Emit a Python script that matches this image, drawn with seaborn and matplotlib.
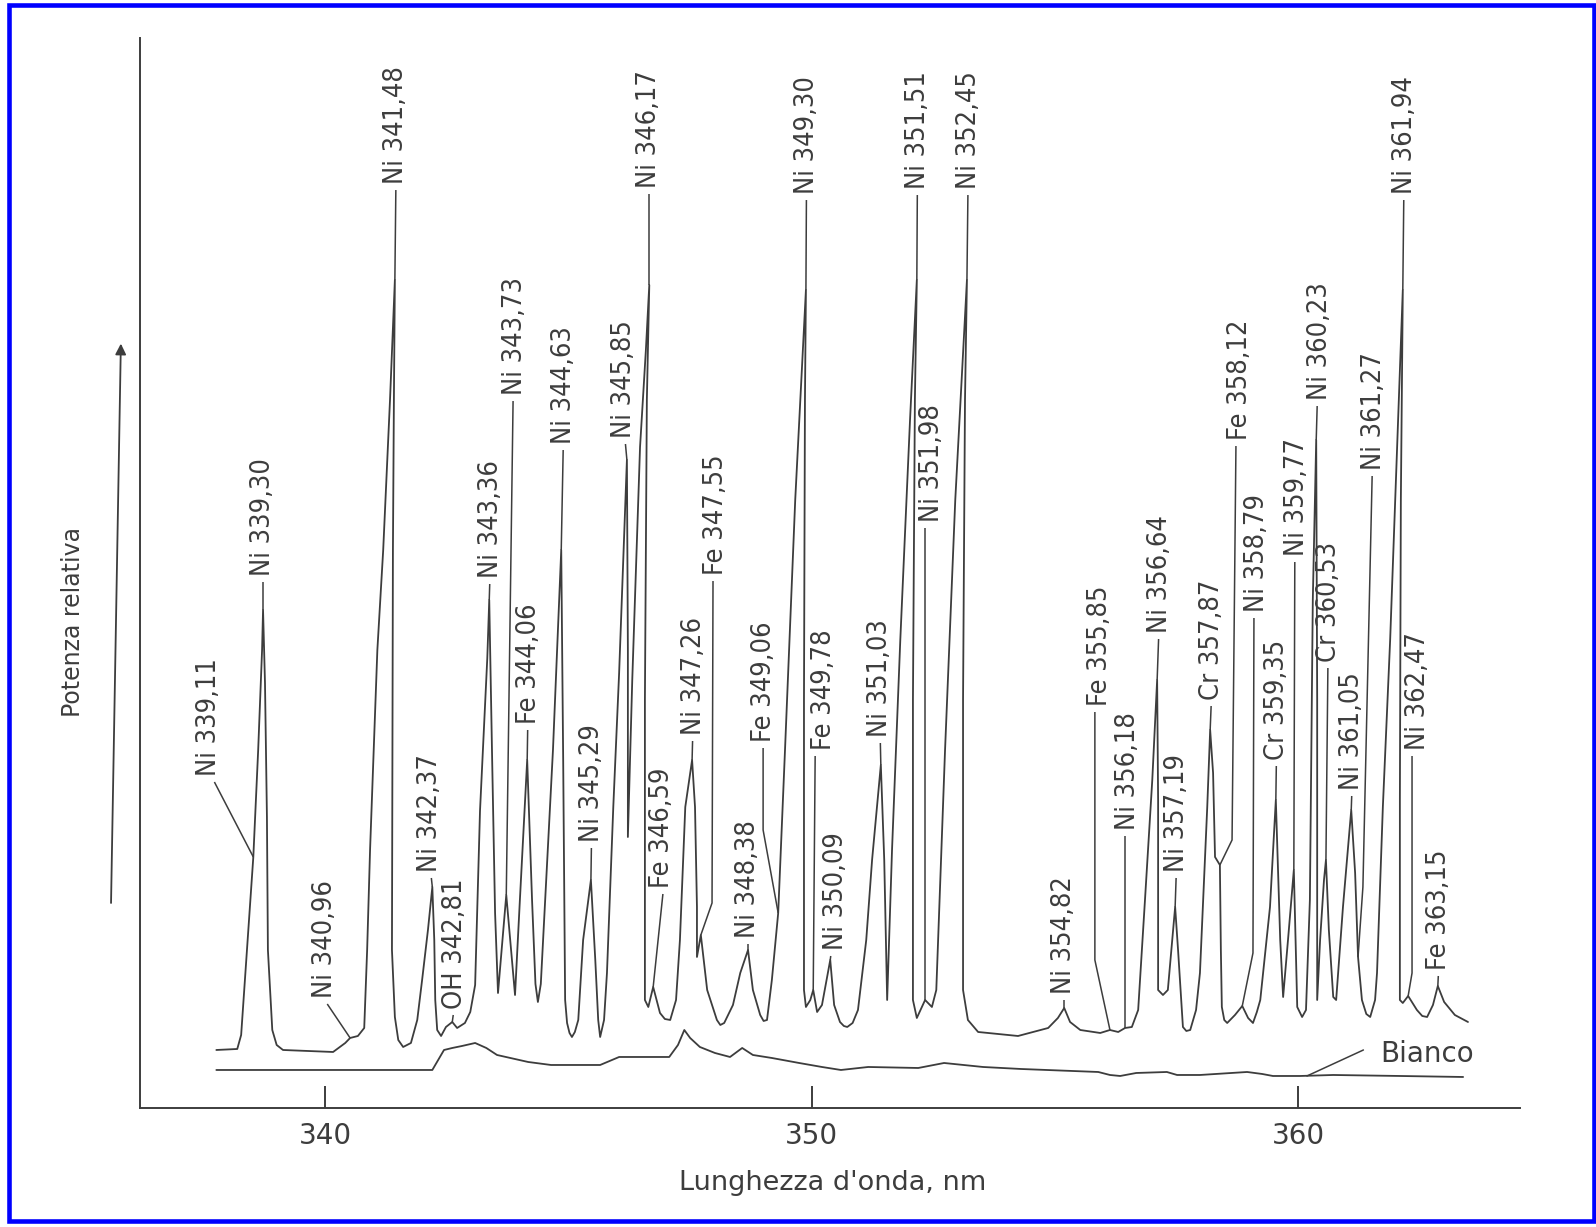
import numpy as np
import pandas as pd
import matplotlib
matplotlib.use("Agg")
import matplotlib.pyplot as plt
import seaborn as sns
from matplotlib import font_manager as fm
from matplotlib.patches import Rectangle

# ---------------- data ----------------
# sample trace (wavelength in nm, relative power in arbitrary units)
sample_nm = [
    337.76, 338.19, 338.27, 338.39, 338.52, 338.62, 338.70, 338.72, 338.76, 338.80,
    338.82, 338.91, 339.00, 339.13, 340.16, 340.41, 340.51, 340.67, 340.80, 340.86,
    340.92, 341.07, 341.19, 341.33, 341.43, 341.41, 341.39, 341.37, 341.43, 341.50,
    341.60, 341.76, 341.89, 341.99, 342.11, 342.20, 342.24, 342.26, 342.30, 342.38,
    342.48, 342.61, 342.71, 342.87, 342.98, 343.08, 343.18, 343.33, 343.37, 343.43,
    343.49, 343.55, 343.72, 343.90, 344.00, 344.15, 344.25, 344.32, 344.37, 344.43,
    344.52, 344.68, 344.85, 344.89, 344.93, 344.97, 345.02, 345.07, 345.13, 345.20,
    345.30, 345.46, 345.55, 345.61, 345.65, 345.73, 345.79, 345.92, 346.04, 346.20,
    346.22, 346.22, 346.31, 346.47, 346.59, 346.66, 346.61, 346.57, 346.57, 346.64,
    346.74, 346.88, 346.98, 347.09, 347.21, 347.29, 347.40, 347.54, 347.60, 347.64,
    347.64, 347.72, 347.85, 348.05, 348.12, 348.20, 348.38, 348.53, 348.69, 348.79,
    348.94, 349.01, 349.08, 349.18, 349.31, 349.45, 349.66, 349.88, 349.86, 349.84,
    349.84, 349.88, 349.97, 350.03, 350.11, 350.21, 350.38, 350.46, 350.58, 350.66,
    350.73, 350.84, 350.95, 351.12, 351.24, 351.42, 351.49, 351.53, 351.55, 351.65,
    351.82, 352.02, 352.16, 352.12, 352.08, 352.08, 352.16, 352.33, 352.47, 352.56,
    352.74, 352.95, 353.19, 353.15, 353.11, 353.11, 353.21, 353.42, 354.24, 354.86,
    355.06, 355.19, 355.31, 355.52, 355.93, 356.13, 356.30, 356.44, 356.58, 356.71,
    356.85, 357.00, 357.10, 357.12, 357.12, 357.22, 357.32, 357.41, 357.47, 357.53,
    357.63, 357.70, 357.78, 357.90, 357.98, 358.13, 358.19, 358.25, 358.29, 358.39,
    358.41, 358.43, 358.48, 358.54, 358.70, 358.85, 358.97, 359.07, 359.15, 359.22,
    359.42, 359.54, 359.63, 359.69, 359.79, 359.91, 359.98, 360.08, 360.16, 360.24,
    360.30, 360.37, 360.39, 360.39, 360.45, 360.53, 360.57, 360.63, 360.72, 360.78,
    360.92, 361.09, 361.17, 361.23, 361.31, 361.40, 361.48, 361.58, 361.62, 361.74,
    361.89, 362.03, 362.15, 362.11, 362.09, 362.09, 362.15, 362.26, 362.44, 362.55,
    362.65, 362.77, 362.87, 363.00, 363.22, 363.49,
]
sample_val = [
    5.8, 5.9, 7.3, 15.8, 25.1, 35.8, 45.8, 49.8, 42.5, 29.1,
    15.8, 7.8, 6.3, 5.8, 5.6, 6.5, 7.0, 7.2, 8.0, 15.8,
    25.8, 45.8, 55.8, 70.8, 82.8, 70.8, 55.8, 15.8, 9.1, 6.8,
    6.1, 6.5, 8.8, 12.8, 17.8, 22.1, 16.8, 10.8, 7.8, 7.2,
    8.1, 8.6, 8.0, 8.5, 9.6, 12.3, 29.7, 45.0, 50.8, 34.8,
    19.5, 11.5, 21.3, 11.3, 20.8, 34.8, 20.8, 12.4, 10.6, 12.4,
    20.8, 35.8, 55.8, 34.8, 10.8, 8.5, 7.5, 7.1, 7.6, 8.8,
    16.8, 22.8, 14.8, 8.8, 7.1, 8.8, 13.5, 30.1, 43.5, 64.8,
    45.8, 27.1, 42.8, 66.1, 75.8, 82.3, 70.8, 40.8, 10.8, 10.1,
    12.1, 9.5, 8.9, 8.8, 10.8, 16.8, 30.1, 34.8, 30.1, 20.1,
    15.1, 17.3, 11.8, 8.8, 8.3, 8.5, 10.3, 13.5, 15.8, 11.8,
    9.3, 8.7, 8.8, 12.8, 19.5, 35.8, 60.8, 81.8, 70.8, 40.8,
    11.8, 10.1, 10.8, 11.8, 9.6, 10.3, 14.8, 10.3, 8.6, 8.2,
    8.1, 8.5, 9.8, 16.8, 24.8, 34.3, 24.8, 15.8, 10.8, 25.8,
    46.8, 68.8, 82.8, 70.8, 40.8, 10.8, 9.0, 10.8, 10.1, 11.8,
    35.8, 60.8, 82.8, 70.8, 40.8, 11.8, 8.8, 7.6, 7.2, 8.0,
    9.0, 10.0, 8.6, 7.8, 7.5, 7.8, 7.6, 8.0, 8.1, 9.8,
    20.8, 32.8, 42.8, 30.8, 11.8, 11.3, 11.8, 16.8, 20.1, 15.8,
    8.1, 7.7, 7.8, 9.8, 13.5, 30.1, 37.8, 33.5, 25.1, 24.3,
    15.8, 10.1, 8.8, 8.5, 9.3, 10.2, 9.0, 8.5, 9.6, 10.8,
    20.1, 30.8, 16.8, 11.1, 16.8, 23.8, 10.1, 9.1, 9.8, 20.8,
    50.8, 66.8, 40.8, 10.8, 16.8, 22.8, 24.8, 17.8, 11.1, 10.8,
    20.1, 29.8, 23.5, 15.1, 10.8, 9.4, 9.1, 10.8, 13.5, 30.1,
    46.8, 65.8, 81.8, 60.8, 30.8, 10.8, 10.5, 11.2, 9.8, 9.2,
    9.1, 10.3, 12.2, 10.6, 9.3, 8.6,
]

# blank ("Bianco") trace
blank_nm = [
    337.76, 342.20, 342.44, 342.61, 342.81, 343.08, 343.31, 343.53, 344.17, 344.64,
    345.42, 345.65, 346.04, 347.07, 347.25, 347.38, 347.50, 347.70, 348.01, 348.32,
    348.57, 348.79, 349.18, 349.74, 350.21, 350.60, 351.16, 352.19, 352.72, 353.52,
    354.30, 355.89, 356.13, 356.34, 356.67, 357.30, 357.51, 357.98, 358.95, 359.26,
    359.48, 360.04, 360.72, 362.09, 363.39,
]
blank_val = [
    3.8, 3.8, 5.8, 6.0, 6.2, 6.5, 6.0, 5.3, 4.6, 4.3,
    4.3, 4.3, 5.1, 5.1, 6.3, 7.8, 7.0, 6.1, 5.5, 5.1,
    6.0, 5.3, 5.0, 4.5, 4.1, 3.8, 4.1, 4.0, 4.5, 4.1,
    3.9, 3.6, 3.3, 3.2, 3.5, 3.6, 3.3, 3.3, 3.6, 3.4,
    3.2, 3.2, 3.3, 3.2, 3.1,
]

# peak labels
label_text = [
    "Ni 339,11", "Ni 339,30", "Ni 340,96", "Ni 341,48", "Ni 342,37", "OH 342,81",
    "Ni 343,36", "Ni 343,73", "Fe 344,06", "Ni 344,63", "Ni 345,29", "Ni 345,85",
    "Ni 346,17", "Fe 346,59", "Ni 347,26", "Fe 347,55", "Ni 348,38", "Fe 349,06",
    "Ni 349,30", "Fe 349,78", "Ni 350,09", "Ni 351,03", "Ni 351,51", "Ni 351,98",
    "Ni 352,45", "Ni 354,82", "Fe 355,85", "Ni 356,18", "Ni 356,64", "Ni 357,19",
    "Cr 357,87", "Fe 358,12", "Ni 358,79", "Cr 359,35", "Ni 359,77", "Ni 360,23",
    "Cr 360,53", "Ni 361,05", "Ni 361,27", "Ni 361,94", "Ni 362,47", "Fe 363,15",
]
label_x = [
    337.61, 338.72, 340.00, 341.46, 342.15, 342.67, 343.41, 343.90, 344.19, 344.91,
    345.48, 346.14, 346.66, 346.92, 347.58, 348.03, 348.69, 349.02, 349.90, 350.25,
    350.50, 351.40, 352.19, 352.47, 353.23, 355.19, 355.93, 356.50, 357.16, 357.51,
    358.23, 358.80, 359.15, 359.56, 359.98, 360.45, 360.63, 361.11, 361.56, 362.20,
    362.46, 362.89,
]
label_y = [
    33.2, 53.2, 11.0, 92.4, 23.6, 9.9, 53.0, 71.3, 38.4, 66.4,
    26.6, 67.0, 92.0, 22.0, 37.3, 53.3, 17.0, 36.6, 91.4, 35.8,
    15.8, 37.1, 91.9, 58.6, 91.9, 11.4, 40.2, 27.8, 47.5, 23.6,
    40.8, 66.8, 49.6, 34.8, 55.2, 70.8, 44.6, 31.8, 63.8, 91.4,
    35.8, 13.8,
]
lead_x = [
    337.72, 338.72, 340.04, 341.45, 342.18, 342.63, 343.38, 343.86, 344.16, 344.89,
    345.47, 346.17, 346.66, 346.94, 347.55, 347.97, 348.69, 349.00, 349.89, 350.07,
    350.39, 351.41, 352.17, 352.33, 353.21, 355.19, 355.82, 356.44, 357.13, 357.49,
    358.21, 358.72, 359.09, 359.55, 359.93, 360.39, 360.61, 361.10, 361.52, 362.17,
    362.34, 362.88,
]
nan = np.nan
bend_x = [nan] * 15 + [347.95, nan, 349.00] + [nan] * 8 + [355.82] + [nan] * 4 + \
    [358.64, 359.07] + [nan] * 5 + [361.33, nan, 362.34, nan]
bend_y = [nan] * 15 + [20.5, nan, 27.8] + [nan] * 8 + [14.8] + [nan] * 4 + \
    [26.8, 15.5] + [nan] * 5 + [22.1, nan, 13.5, nan]
anchor_x = [
    338.52, 338.72, 340.51, 341.43, 342.20, 342.61, 343.37, 343.72, 344.15, 344.85,
    345.46, 346.20, 346.66, 346.74, 347.54, 347.72, 348.69, 349.31, 349.88, 350.03,
    350.38, 351.42, 352.16, 352.33, 353.19, 355.19, 356.13, 356.44, 357.10, 357.47,
    358.19, 358.39, 358.85, 359.54, 359.91, 360.37, 360.57, 361.09, 361.23, 362.15,
    362.26, 362.87,
]
anchor_y = [
    25.1, 49.8, 7.0, 82.8, 22.1, 8.6, 50.8, 21.3, 34.8, 55.8,
    22.8, 64.8, 82.3, 12.1, 34.8, 17.3, 15.8, 19.5, 81.8, 11.8,
    14.8, 34.3, 82.8, 10.8, 82.8, 10.0, 7.8, 8.0, 42.8, 20.1,
    37.8, 24.3, 10.2, 30.8, 23.8, 66.8, 24.8, 29.8, 15.1, 81.8,
    11.2, 12.2,
]

tick_vals = [340, 350, 360]
tick_labels = ["340", "350", "360"]
blank_label = "Bianco"
blank_label_pos = (361.68, 5.4)
blank_leader_x = [360.18, 361.34]
blank_leader_y = [3.2, 5.8]

# ---------------- styling ----------------
sns.set_theme(style="white")
plt.rcParams["font.family"] = ["DejaVu Sans"]

INK = "#3d3d3d"


def font_ok(name):
    try:
        fm.findfont(fm.FontProperties(family=name), fallback_to_default=False)
        return True
    except Exception:
        return False


if font_ok("Liberation Sans Narrow"):
    peak_font = dict(fontfamily="Liberation Sans Narrow", fontsize=22)
else:
    peak_font = dict(fontfamily="DejaVu Sans", fontstretch="condensed", fontsize=19.5)

fig = plt.figure(figsize=(15.96, 12.27), dpi=100)
ax = fig.add_axes([0.0877, 0.0970, 0.8647, 0.8720])

sample = pd.DataFrame({"nm": sample_nm, "val": sample_val})
blank = pd.DataFrame({"nm": blank_nm, "val": blank_val})

sns.lineplot(data=sample, x="nm", y="val", sort=False, estimator=None,
             errorbar=None, color=INK, lw=1.3, ax=ax)
sns.lineplot(data=blank, x="nm", y="val", sort=False, estimator=None,
             errorbar=None, color=INK, lw=1.3, ax=ax)

# peak labels with leader lines
for i, txt in enumerate(label_text):
    xs = [lead_x[i]]
    ys = [label_y[i] - 0.6]
    if not np.isnan(bend_x[i]):
        xs.append(bend_x[i])
        ys.append(bend_y[i])
    xs.append(anchor_x[i])
    ys.append(anchor_y[i])
    ax.plot(xs, ys, color=INK, lw=1.1, solid_capstyle="butt")
    ax.text(label_x[i], label_y[i], txt, rotation=90, ha="center", va="bottom",
            color=INK, **peak_font)

# blank label
ax.plot(blank_leader_x, blank_leader_y, color=INK, lw=1.1)
ax.text(blank_label_pos[0], blank_label_pos[1], blank_label, ha="left",
        va="center", fontsize=20, color=INK)

# axes
ax.set_xlim(336.19, 364.56)
ax.set_ylim(0, 107)
ax.set_xticks(tick_vals)
ax.set_xticklabels(tick_labels)
ax.set_yticks([])
ax.tick_params(axis="x", bottom=True, direction="in", length=16, width=1.4,
               pad=10, labelsize=20, colors=INK)
for s in ["top", "right"]:
    ax.spines[s].set_visible(False)
for s in ["left", "bottom"]:
    ax.spines[s].set_color(INK)
    ax.spines[s].set_linewidth(1.4)

ax.set_xlabel("Lunghezza d'onda, nm", fontsize=19.5, color=INK)
ax.xaxis.set_label_coords(0.502, -0.058)
ax.set_ylabel("Potenza relativa", fontsize=17, color=INK)
ax.yaxis.set_label_coords(-0.0486, 0.454)
ax.yaxis.label.set_verticalalignment("center")

# arrow next to the y axis
ax.annotate("", xy=(-0.0138, 0.717), xytext=(-0.021, 0.189),
            xycoords="axes fraction", textcoords="axes fraction",
            arrowprops=dict(arrowstyle="-|>", lw=1.3, color=INK,
                            mutation_scale=16),
            annotation_clip=False)

# blue frame
fig.add_artist(Rectangle((0.00595, 0.00489), 0.99280, 0.99079,
                         transform=fig.transFigure, fill=False,
                         edgecolor="#0000ff", lw=3.3))

fig.savefig("out.png", dpi=100, facecolor="white")
